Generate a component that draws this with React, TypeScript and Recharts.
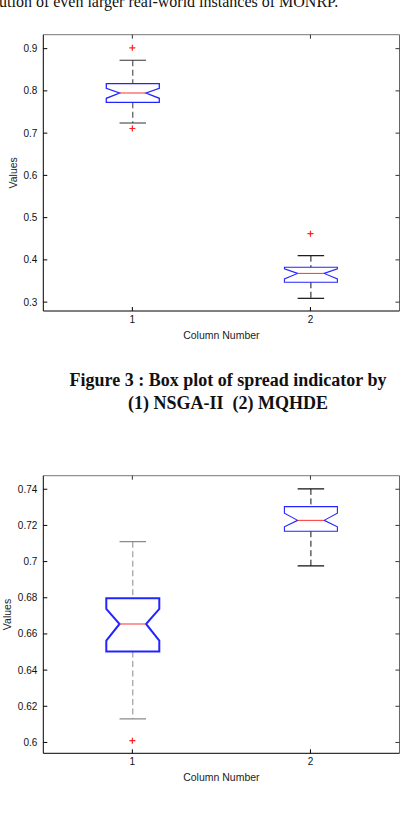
import React from "react";
import { Bar, ComposedChart, Line, XAxis, YAxis } from "recharts";

const categories = ["1", "2"];

// Figure 3: spread indicator, (1) NSGA-II (2) MQHDE
const spreadLowWhisker = [0.724, 0.309];
const spreadQ1 = [0.773, 0.347];
const spreadNotchLow = [0.7825, 0.355];
const spreadMedian = [0.795, 0.368];
const spreadNotchHigh = [0.806, 0.379];
const spreadQ3 = [0.817, 0.3825];
const spreadHighWhisker = [0.8725, 0.41];
const spreadOutLow = [0.711, null];
const spreadOutHigh = [0.902, 0.462];
const spreadTicks = [0.3, 0.4, 0.5, 0.6, 0.7, 0.8, 0.9];
const spreadDomain = [0.279, 0.933];

// second figure (same two algorithms)
const secondLowWhisker = [0.613, 0.6976];
const secondQ1 = [0.6503, 0.7168];
const secondNotchLow = [0.6563, 0.7192];
const secondMedian = [0.6655, 0.7228];
const secondNotchHigh = [0.6738, 0.7268];
const secondQ3 = [0.6798, 0.7304];
const secondHighWhisker = [0.711, 0.7402];
const secondOutLow = [0.601, null];
const secondOutHigh = [null, null];
const secondTicks = [0.6, 0.62, 0.64, 0.66, 0.68, 0.7, 0.72, 0.74];
const secondDomain = [0.594, 0.7475];

const SANS = '"Liberation Sans", Arial, Helvetica, sans-serif';
const SERIF = '"Liberation Serif", "Times New Roman", Times, serif';

type Row = {
  name: string;
  lo: number;
  q1: number;
  nLo: number;
  med: number;
  nHi: number;
  q3: number;
  hi: number;
  outLo: number | null;
  outHi: number | null;
};

function buildRows(
  lo: number[],
  q1: number[],
  nLo: number[],
  med: number[],
  nHi: number[],
  q3: number[],
  hi: number[],
  outLo: (number | null)[],
  outHi: (number | null)[]
): Row[] {
  return categories.map((name, i) => ({
    name,
    lo: lo[i],
    q1: q1[i],
    nLo: nLo[i],
    med: med[i],
    nHi: nHi[i],
    q3: q3[i],
    hi: hi[i],
    outLo: outLo[i],
    outHi: outHi[i],
  }));
}

const spreadRows = buildRows(
  spreadLowWhisker,
  spreadQ1,
  spreadNotchLow,
  spreadMedian,
  spreadNotchHigh,
  spreadQ3,
  spreadHighWhisker,
  spreadOutLow,
  spreadOutHigh
);

const secondRows = buildRows(
  secondLowWhisker,
  secondQ1,
  secondNotchLow,
  secondMedian,
  secondNotchHigh,
  secondQ3,
  secondHighWhisker,
  secondOutLow,
  secondOutHigh
);

const hideTick = () => <g />;

// "+" marker for outliers
const plus = (props: any) => {
  const { cx, cy, value, index } = props;
  if (value == null || cy == null) return <g key={`o-${index}`} />;
  return (
    <g key={`o-${index}`} stroke="#ff2020" strokeWidth={1.2}>
      <line x1={cx - 3} x2={cx + 3} y1={cy} y2={cy} />
      <line x1={cx} x2={cx} y1={cy - 3} y2={cy + 3} />
    </g>
  );
};

// notched box + whiskers, positioned from the range bar [q1, q3]
function NotchedBox(props: any) {
  const { x, y, width, height, payload: d, whisker, boxWidth } = props;
  const top = Math.min(y, y + height);
  const h = Math.abs(height);
  const py = (v: number) => top + ((d.q3 - v) / (d.q3 - d.q1)) * h;
  const xl = x;
  const xr = x + width;
  const xc = x + width / 2;
  const xnl = x + width / 4;
  const xnr = x + (3 * width) / 4;
  const pts = [
    [xl, py(d.q3)],
    [xr, py(d.q3)],
    [xr, py(d.nHi)],
    [xnr, py(d.med)],
    [xr, py(d.nLo)],
    [xr, py(d.q1)],
    [xl, py(d.q1)],
    [xl, py(d.nLo)],
    [xnl, py(d.med)],
    [xl, py(d.nHi)],
  ]
    .map((p) => p.join(","))
    .join(" ");
  return (
    <g>
      <line x1={xc} x2={xc} y1={py(d.hi)} y2={py(d.q3)} stroke={whisker} strokeDasharray="6 3.5" />
      <line x1={xc} x2={xc} y1={py(d.q1)} y2={py(d.lo)} stroke={whisker} strokeDasharray="6 3.5" />
      <line x1={xc - width / 4} x2={xc + width / 4} y1={py(d.hi)} y2={py(d.hi)} stroke={whisker} strokeWidth={1.2} />
      <line x1={xc - width / 4} x2={xc + width / 4} y1={py(d.lo)} y2={py(d.lo)} stroke={whisker} strokeWidth={1.2} />
      <polygon points={pts} fill="none" stroke="#2424ff" strokeWidth={boxWidth} />
      <line x1={xnl} x2={xnr} y1={py(d.med)} y2={py(d.med)} stroke="#ff3030" strokeWidth={1} />
    </g>
  );
}

interface BoxChartProps {
  rows: Row[];
  domain: number[];
  ticks: number[];
  top: number;
  plotTop: number;
  plotBottom: number;
  ylabelX: number;
  whiskerColors: string[];
  boxWidths: number[];
}

function BoxChart({
  rows,
  domain,
  ticks,
  top,
  plotTop,
  plotBottom,
  ylabelX,
  whiskerColors,
  boxWidths,
}: BoxChartProps) {
  const height = plotBottom + 34;
  const tickStyle = { fontSize: 10, fill: "#111", fontFamily: SANS };
  return (
    <div style={{ position: "absolute", left: 0, top }}>
      <ComposedChart
        width={415}
        height={height}
        data={rows}
        margin={{ top: plotTop - 1, right: 14.5, bottom: 4, left: 0 }}
      >
        <XAxis
          xAxisId="top"
          orientation="top"
          dataKey="name"
          height={1}
          interval={0}
          tickSize={-4}
          tick={hideTick}
          axisLine={{ stroke: "#777" }}
          tickLine={{ stroke: "#333" }}
        />
        <YAxis
          yAxisId="right"
          orientation="right"
          type="number"
          width={1}
          domain={domain}
          ticks={ticks}
          interval={0}
          allowDataOverflow
          tickSize={-4}
          tick={hideTick}
          axisLine={{ stroke: "#666" }}
          tickLine={{ stroke: "#333" }}
        />
        <XAxis
          dataKey="name"
          height={30}
          interval={0}
          tickSize={-4}
          tickMargin={9}
          tick={tickStyle}
          axisLine={{ stroke: "#000" }}
          tickLine={{ stroke: "#000" }}
          label={{
            value: "Column Number",
            position: "insideBottom",
            offset: 2.5,
            fontSize: 10.5,
            fill: "#222",
            fontFamily: SANS,
          }}
        />
        <YAxis
          type="number"
          width={43.3}
          domain={domain}
          ticks={ticks}
          interval={0}
          allowDataOverflow
          tickSize={-4}
          tickMargin={10}
          tick={tickStyle}
          axisLine={{ stroke: "#000" }}
          tickLine={{ stroke: "#000" }}
          label={{
            value: "Values",
            angle: -90,
            position: "insideLeft",
            offset: ylabelX,
            style: { textAnchor: "middle" },
            fontSize: 10.5,
            fill: "#222",
            fontFamily: SANS,
          }}
        />
        <Bar
          dataKey={(d: Row) => [d.q1, d.q3]}
          barSize={53}
          isAnimationActive={false}
          shape={(p: any) => (
            <NotchedBox
              {...p}
              whisker={whiskerColors[p.index]}
              boxWidth={boxWidths[p.index]}
            />
          )}
        />
        <Line dataKey="outHi" stroke="none" dot={plus} activeDot={false} isAnimationActive={false} />
        <Line dataKey="outLo" stroke="none" dot={plus} activeDot={false} isAnimationActive={false} />
      </ComposedChart>
    </div>
  );
}

export default function App() {
  return (
    <div
      style={{
        position: "absolute",
        left: 0,
        top: 0,
        width: 415,
        height: 825,
        overflow: "hidden",
        background: "#fff",
      }}
    >
      <div
        style={{
          position: "absolute",
          left: -1,
          top: -6.4,
          fontFamily: SERIF,
          fontSize: 16,
          lineHeight: "16px",
          whiteSpace: "nowrap",
          color: "#111",
        }}
      >
        ution of even larger real-world instances of MONRP.
      </div>

      <BoxChart
        rows={spreadRows}
        domain={spreadDomain}
        ticks={spreadTicks}
        top={0}
        plotTop={34.7}
        plotBottom={311}
        ylabelX={12.8}
        whiskerColors={["#333", "#111"]}
        boxWidths={[1.3, 1.1]}
      />

      <div
        style={{
          position: "absolute",
          left: 28,
          width: 400,
          top: 369.1,
          fontFamily: SERIF,
          fontWeight: "bold",
          fontSize: 18,
          lineHeight: "23.3px",
          textAlign: "center",
          whiteSpace: "pre",
          color: "#111",
        }}
      >
        <div>Figure 3 : Box plot of spread indicator by</div>
        <div>(1) NSGA-II  (2) MQHDE</div>
      </div>

      <BoxChart
        rows={secondRows}
        domain={secondDomain}
        ticks={secondTicks}
        top={440}
        plotTop={35.7}
        plotBottom={313.3}
        ylabelX={7.5}
        whiskerColors={["#8a8a8a", "#111"]}
        boxWidths={[2, 1.1]}
      />
    </div>
  );
}
